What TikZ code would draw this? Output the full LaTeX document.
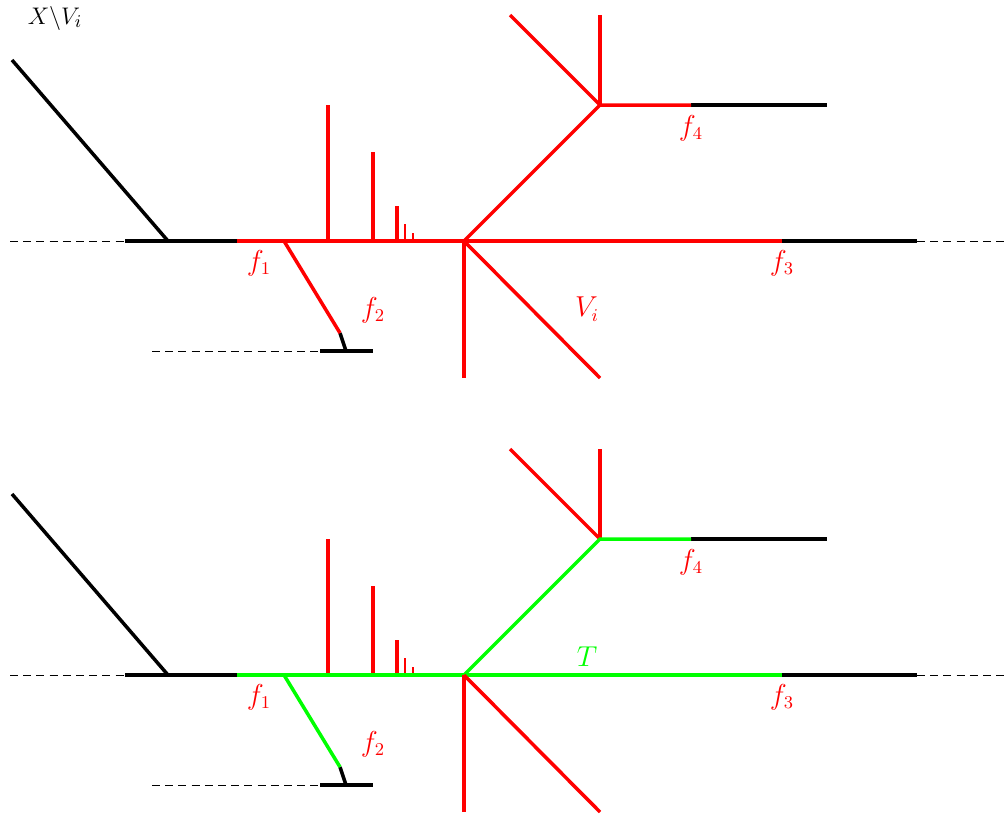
\documentclass[tikz,border=0pt]{standalone}
\usepackage{tikz}
\newcommand\mytree[2]{%
  \coordinate (#1L) at (10,241);
  \coordinate (#1A) at (125,241);
  \coordinate (#1B) at (168,241);
  \coordinate (#1Bt) at (12,60);
  \coordinate (#1C) at (237,241);
  \coordinate (#1D) at (284,241);
  \coordinate (#1V) at (464,241);
  \coordinate (#1F3) at (782,241);
  \coordinate (#1G) at (917,241);
  \coordinate (#1R) at (1007,241);
  \coordinate (#1P) at (340,333);
  \coordinate (#1Q) at (346,351);
  \coordinate (#1H1) at (320,351);
  \coordinate (#1H2) at (373,351);
  \coordinate (#1HL) at (152,351);
  \coordinate (#1U) at (600,105);
  \coordinate (#1U1) at (600,15);
  \coordinate (#1U2) at (510,15);
  \coordinate (#1F4) at (691,105);
  \coordinate (#1K) at (827,105);
  \coordinate (#1W1) at (464,378);
  \coordinate (#1W2) at (600,378);
  \foreach \x/\y/\n/\w in {328/105/a/1.75pt,373/152/b/1.75pt,397/206/c/1.6pt,405/224/d/1.3pt,413/233/e/1.3pt}{
    \coordinate (#1t\n) at (\x,\y);
    \coordinate (#1b\n) at (\x,241);
    \draw[redl,line width=\w] (#1b\n) -- (#1t\n);
  }
  \draw[dashline] (#1L) -- (#1A);
  \draw[dashline] (#1G) -- (#1R);
  \draw[dashline] (#1HL) -- (#1H1);
  \draw[blk] (#1Bt) -- (#1B);
  \draw[blk] (#1A) -- (#1C);
  \draw[blk] (#1F3) -- (#1G);
  \draw[blk] (#1F4) -- (#1K);
  \draw[blk] (#1P) -- (#1Q);
  \draw[blk] (#1H1) -- (#1H2);
  \draw[redl] (#1U) -- (#1U1);
  \draw[redl] (#1U) -- (#1U2);
  \draw[#2] (#1C) -- (#1F3);
  \draw[#2] (#1D) -- (#1P);
  \draw[#2] (#1V) -- (#1U) -- (#1F4);
  \draw[redl] (#1V) -- (#1W1);
  \draw[redl] (#1V) -- (#1W2);
  \node[lbl] (#1f1) at (259,263) {$f_1$};
  \node[lbl] (#1f2) at (373,310) {$f_2$};
  \node[lbl] (#1f3) at (782,263) {$f_3$};
  \node[lbl] (#1f4) at (691,128) {$f_4$};
}
\begin{document}
\begin{tikzpicture}[x=0.5pt,y=-0.5pt,
  blk/.style={line width=1.75pt,black},
  redl/.style={line width=1.75pt,red},
  greenl/.style={line width=1.75pt,green},
  dashline/.style={line width=0.4pt,black,dash pattern=on 4pt off 2.6pt},
  lbl/.style={text=red,font=\fontsize{13.5}{16}\selectfont,inner sep=0pt}]
\useasboundingbox (0,0) rectangle (1007,814);
\mytree{s}{redl}
\node[lbl] (vi) at (587,309) {$V_i$};
\node[font=\fontsize{13}{16}\selectfont,inner sep=0pt] (xv) at (55,18) {$X\backslash V_i$};
\begin{scope}[shift={(0,434)}]
\mytree{g}{greenl}
\node[lbl,text=green] (tl) at (587,223) {$T$};
\end{scope}
\end{tikzpicture}
\end{document}
